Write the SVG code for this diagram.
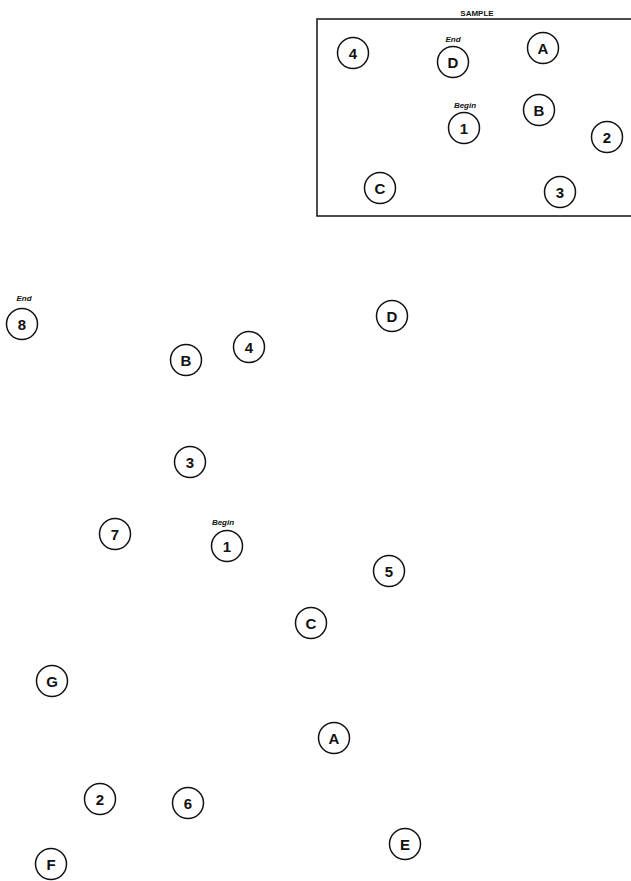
<svg xmlns="http://www.w3.org/2000/svg" width="631" height="881" viewBox="0 0 631 881">
<style>
.n circle{fill:none;stroke:#111;stroke-width:1.5}
.n text{font-family:"Liberation Sans",Arial,sans-serif;font-weight:bold;font-size:15px;fill:#111;text-anchor:middle}
.lbl{font-family:"Liberation Sans",Arial,sans-serif;font-weight:bold;font-style:italic;font-size:8px;fill:#111;text-anchor:middle}
.box{fill:none;stroke:#111;stroke-width:1.5}
</style>
<rect width="631" height="881" fill="#fff"/>
<text x="477" y="16" class="lbl" style="font-style:normal;font-size:8px">SAMPLE</text>
<path class="box" d="M633,19 H317 V216 H633"/>
<g id="connectors"></g>
<g id="s4" class="n"><circle cx="353" cy="53" r="15.5"/><text x="353" y="58.5">4</text></g>
<g id="sD" class="n"><circle cx="453" cy="62" r="15.5"/><text x="453" y="67.5">D</text></g>
<text class="lbl" x="453" y="42">End</text>
<g id="sA" class="n"><circle cx="543" cy="48" r="15.5"/><text x="543" y="53.5">A</text></g>
<text class="lbl" x="465" y="108">Begin</text>
<g id="s1" class="n"><circle cx="464" cy="128" r="15.5"/><text x="464" y="133.5">1</text></g>
<g id="sB" class="n"><circle cx="539" cy="110" r="15.5"/><text x="539" y="115.5">B</text></g>
<g id="s2" class="n"><circle cx="607" cy="137" r="15.5"/><text x="607" y="142.5">2</text></g>
<g id="sC" class="n"><circle cx="380" cy="188" r="15.5"/><text x="380" y="193.5">C</text></g>
<g id="s3" class="n"><circle cx="560" cy="192" r="15.5"/><text x="560" y="197.5">3</text></g>

<text class="lbl" x="24" y="301">End</text>
<g id="t8" class="n"><circle cx="22" cy="324" r="15.5"/><text x="22" y="329.5">8</text></g>
<g id="tB" class="n"><circle cx="186" cy="360" r="15.5"/><text x="186" y="365.5">B</text></g>
<g id="t4" class="n"><circle cx="249" cy="347" r="15.5"/><text x="249" y="352.5">4</text></g>
<g id="tD" class="n"><circle cx="392" cy="316" r="15.5"/><text x="392" y="321.5">D</text></g>
<g id="t3" class="n"><circle cx="190" cy="462" r="15.5"/><text x="190" y="467.5">3</text></g>
<g id="t7" class="n"><circle cx="115" cy="534" r="15.5"/><text x="115" y="539.5">7</text></g>
<text class="lbl" x="223" y="525">Begin</text>
<g id="t1" class="n"><circle cx="227" cy="546" r="15.5"/><text x="227" y="551.5">1</text></g>
<g id="t5" class="n"><circle cx="389" cy="571" r="15.5"/><text x="389" y="576.5">5</text></g>
<g id="tC" class="n"><circle cx="311" cy="623" r="15.5"/><text x="311" y="628.5">C</text></g>
<g id="tG" class="n"><circle cx="52" cy="681" r="15.5"/><text x="52" y="686.5">G</text></g>
<g id="tA" class="n"><circle cx="334" cy="738" r="15.5"/><text x="334" y="743.5">A</text></g>
<g id="t2" class="n"><circle cx="100" cy="799" r="15.5"/><text x="100" y="804.5">2</text></g>
<g id="t6" class="n"><circle cx="188" cy="803" r="15.5"/><text x="188" y="808.5">6</text></g>
<g id="tE" class="n"><circle cx="405" cy="844" r="15.5"/><text x="405" y="849.5">E</text></g>
<g id="tF" class="n"><circle cx="51" cy="864" r="15.5"/><text x="51" y="869.5">F</text></g>
</svg>
